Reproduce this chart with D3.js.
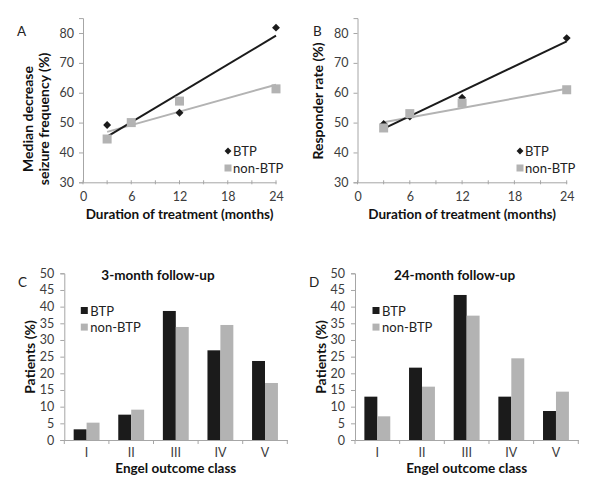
<!DOCTYPE html>
<html><head><meta charset="utf-8">
<script src="https://cdn.jsdelivr.net/npm/d3@7"></script>
<style>body{margin:0;background:#fff}svg{display:block}text{font-family:Lato,"Open Sans",sans-serif}</style>
</head><body>
<svg id="c" width="600" height="484"></svg>
<script>
// ---- data ----
const months = [3, 6, 12, 24];
const medianBTP = [49.2, 50.0, 53.3, 81.8];
const medianNonBTP = [44.5, 50.0, 57.2, 61.3];
const medianTrendBTP = [45.3, 79.1];      // trendline at 3 and 24 months
const medianTrendNonBTP = [46.9, 62.7];
const respBTP = [49.5, 52.0, 58.3, 78.3];
const respNonBTP = [48.2, 53.0, 56.5, 61.0];
const respTrendBTP = [48.0, 77.2];
const respTrendNonBTP = [50.1, 61.3];
const trendX = [3, 24];
const engelClasses = ["I", "II", "III", "IV", "V"];
const m3BTP = [3.2, 7.6, 38.7, 26.9, 23.7];
const m3NonBTP = [5.2, 9.1, 33.9, 34.5, 17.1];
const m24BTP = [13.0, 21.7, 43.5, 13.0, 8.7];
const m24NonBTP = [7.1, 16.0, 37.3, 24.5, 14.5];
const xTicksMonths = [0, 6, 12, 18, 24];
const xMinorTicks = [0, 3, 6, 9, 12, 15, 18, 21, 24];
const yTicksLine = [30, 40, 50, 60, 70, 80];
const yTicksBar = [0, 5, 10, 15, 20, 25, 30, 35, 40, 45, 50];
const seriesNames = ["BTP", "non-BTP"];

const dark = "#1b1b1b", gray = "#b3b3b3", axisCol = "#a6a6a6", tickTxt = "#3c3c3c";
const svg = d3.select("#c");

function linePanel(o) {
  const x = d3.scaleLinear().domain([0, 24]).range(o.xr);
  const y = d3.scaleLinear().domain([30, 85]).range([o.yb, o.yt]);
  const g = svg.append("g");
  const ya = g.append("g").attr("transform", `translate(${o.xr[0]},0)`)
    .call(d3.axisLeft(y).tickValues(yTicksLine).tickSize(4).tickPadding(5));
  const xa = g.append("g").attr("transform", `translate(0,${o.yb})`)
    .call(d3.axisBottom(x).tickValues(xTicksMonths).tickSize(0).tickPadding(10));
  xa.selectAll(".minor").data(xMinorTicks).join("line")
    .attr("x1", d => x(d)).attr("x2", d => x(d)).attr("y1", -2).attr("y2", 2).attr("stroke", axisCol);
  [ya, xa].forEach(a => {
    a.select(".domain").attr("stroke", axisCol);
    a.selectAll(".tick line").attr("stroke", axisCol);
    a.selectAll("text").attr("fill", tickTxt).style("font-size", "12.5px");
  });
  const ln = d3.line().x(d => x(d[0])).y(d => y(d[1]));
  g.append("path").attr("d", ln(d3.zip(trendX, o.trendN))).attr("stroke", gray).attr("stroke-width", 2).attr("fill", "none");
  g.append("path").attr("d", ln(d3.zip(trendX, o.trendB))).attr("stroke", dark).attr("stroke-width", 2).attr("fill", "none");
  const diamond = d3.symbol().type(d3.symbolDiamond2).size(40);
  g.selectAll(".pb").data(d3.zip(months, o.btp)).join("path")
    .attr("d", diamond).attr("transform", d => `translate(${x(d[0])},${y(d[1])})`).attr("fill", dark);
  g.selectAll(".pn").data(d3.zip(months, o.non)).join("rect")
    .attr("x", d => x(d[0]) - 4.5).attr("y", d => y(d[1]) - 4.5).attr("width", 9).attr("height", 9).attr("fill", gray);
  g.append("path").attr("d", d3.symbol().type(d3.symbolDiamond2).size(30)).attr("transform", `translate(${o.lx},151)`).attr("fill", dark);
  g.append("rect").attr("x", o.lx - 3.5).attr("y", 164.5).attr("width", 7).attr("height", 7).attr("fill", gray);
  g.append("text").attr("x", o.lx + 5).attr("y", 155.5).text(seriesNames[0]).style("font-size", "13px").attr("fill", "#222");
  g.append("text").attr("x", o.lx + 5).attr("y", 172.5).text(seriesNames[1]).style("font-size", "13px").attr("fill", "#222");
  g.append("text").attr("x", o.letterX).attr("y", 36).text(o.letter).style("font-size", "13.5px").attr("fill", "#222");
  g.append("text").attr("x", (o.xr[0] + o.xr[1]) / 2).attr("y", 219).attr("text-anchor", "middle")
    .text("Duration of treatment (months)").style("font-size", "13.5px").style("font-weight", "bold").attr("fill", "#111");
  o.ylabel.forEach((t, i) => {
    g.append("text").attr("transform", `translate(${o.ylx[i]},${o.yly}) rotate(-90)`).attr("text-anchor", "middle")
      .text(t).style("font-size", "14px").style("font-weight", "bold").attr("fill", "#111");
  });
}

function barPanel(o) {
  const x = d3.scaleBand().domain(engelClasses).range(o.xr).paddingInner(0.42).paddingOuter(0.21);
  const xs = d3.scaleBand().domain(seriesNames).range([0, x.bandwidth()]);
  const y = d3.scaleLinear().domain([0, 50]).range([440, 273.3]);
  const g = svg.append("g");
  const ya = g.append("g").attr("transform", `translate(${o.xr[0]},0)`)
    .call(d3.axisLeft(y).tickValues(yTicksBar).tickSize(4).tickPadding(6));
  const xa = g.append("g").attr("transform", `translate(0,440)`)
    .call(d3.axisBottom(x).tickSize(0).tickPadding(8));
  const step = x.step();
  xa.selectAll(".bnd").data(d3.range(0, engelClasses.length + 1)).join("line")
    .attr("x1", i => o.xr[0] + i * step).attr("x2", i => o.xr[0] + i * step)
    .attr("y1", 0).attr("y2", 4).attr("stroke", axisCol);
  [ya, xa].forEach(a => {
    a.select(".domain").attr("stroke", axisCol);
    a.selectAll(".tick line").attr("stroke", axisCol);
    a.selectAll("text").attr("fill", tickTxt).style("font-size", "12.5px");
  });
  const rows = engelClasses.map((c, i) => ({c, v: [o.btp[i], o.non[i]]}));
  g.selectAll(".grp").data(rows).join("g").attr("transform", d => `translate(${x(d.c)},0)`)
    .selectAll("rect").data(d => d.v.map((v, j) => ({s: seriesNames[j], v}))).join("rect")
    .attr("x", d => xs(d.s)).attr("width", xs.bandwidth())
    .attr("y", d => y(d.v)).attr("height", d => 440 - y(d.v))
    .attr("fill", d => d.s === "BTP" ? dark : gray);
  seriesNames.forEach((s, i) => {
    g.append("rect").attr("x", o.lx - 3.5).attr("y", 307 + i * 16.6).attr("width", 7).attr("height", 7).attr("fill", i ? gray : dark);
    g.append("text").attr("x", o.lx + 6).attr("y", 315.5 + i * 16.6).text(s).style("font-size", "13px").attr("fill", "#222");
  });
  g.append("text").attr("x", o.letterX).attr("y", 287).text(o.letter).style("font-size", "13.5px").attr("fill", "#222");
  g.append("text").attr("x", o.titleX).attr("y", 280).attr("text-anchor", "middle").text(o.title)
    .style("font-size", "13.5px").style("font-weight", "bold").attr("fill", "#111");
  g.append("text").attr("x", (o.xr[0] + o.xr[1]) / 2).attr("y", 473).attr("text-anchor", "middle")
    .text("Engel outcome class").style("font-size", "13.5px").style("font-weight", "bold").attr("fill", "#111");
  g.append("text").attr("transform", `translate(${o.ylx},357) rotate(-90)`).attr("text-anchor", "middle")
    .text("Patients (%)").style("font-size", "14px").style("font-weight", "bold").attr("fill", "#111");
}

linePanel({xr: [83, 276], yb: 182.3, yt: 18.1, btp: medianBTP, non: medianNonBTP, trendB: medianTrendBTP, trendN: medianTrendNonBTP,
  lx: 228, letter: "A", letterX: 17, ylabel: ["Median decrease", "seizure frequency (%)"], ylx: [33, 49], yly: 119});
linePanel({xr: [357.5, 566.7], yb: 182.3, yt: 18.1, btp: respBTP, non: respNonBTP, trendB: respTrendBTP, trendN: respTrendNonBTP,
  lx: 520, letter: "B", letterX: 313, ylabel: ["Responder rate (%)"], ylx: [323], yly: 101});
barPanel({xr: [64.3, 287.3], btp: m3BTP, non: m3NonBTP, lx: 84.3, letter: "C", letterX: 18, title: "3-month follow-up", titleX: 158, ylx: 35});
barPanel({xr: [355, 578.3], btp: m24BTP, non: m24NonBTP, lx: 376, letter: "D", letterX: 309, title: "24-month follow-up", titleX: 454.5, ylx: 326});
</script>
</body></html>
